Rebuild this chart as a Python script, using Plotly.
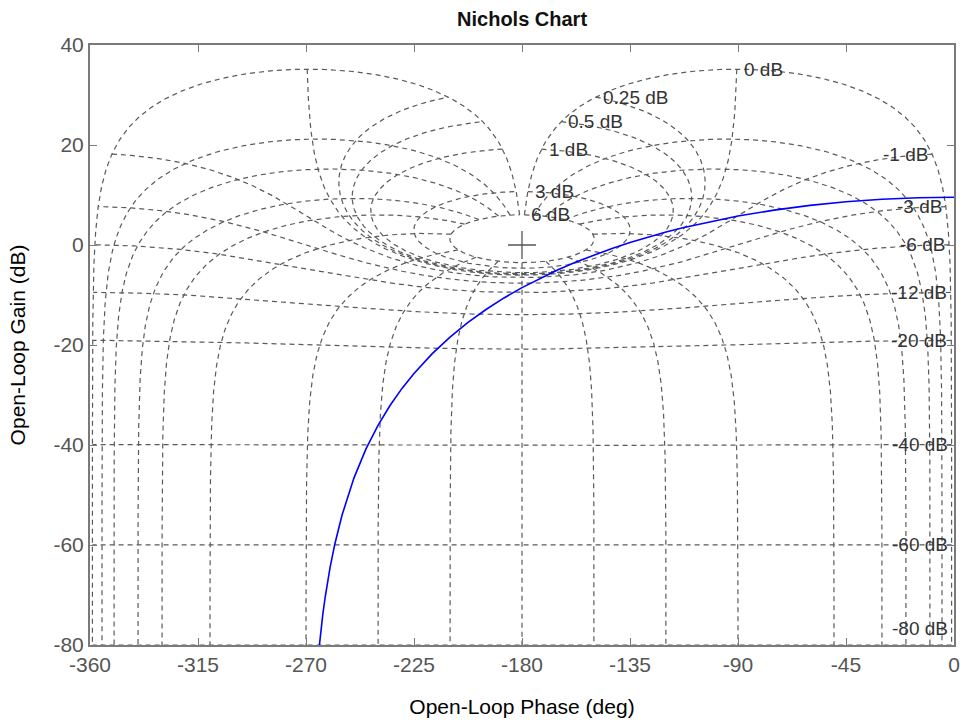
import numpy as np
import plotly.graph_objects as go

# ---------------- Data ----------------
# Open-loop frequency response (phase in deg, gain in dB)
OL_PHASE_DEG = [0, -15, -30, -45, -60, -75, -90, -105, -112.5, -120, -127.5, -135,
                -142.5, -150, -157.5, -165, -172.5, -180, -187.5, -195, -202.5,
                -210, -217.5, -225, -230, -235, -240, -245, -250, -255, -258,
                -260, -262, -263, -265]
OL_GAIN_DB = [9.54, 9.44, 9.14, 8.64, 7.92, 6.98, 5.79, 4.34, 3.51, 2.60, 1.60, 0.51,
              -0.68, -1.97, -3.39, -4.94, -6.65, -8.52, -10.59, -12.90, -15.49,
              -18.41, -21.77, -25.68, -28.68, -32.11, -36.08, -40.79, -46.57, -54.04,
              -59.84, -64.59, -70.40, -73.87, -82.64]

# Nichols grid levels
M_LEVELS_DB = [6, 3, 1, 0.5, 0.25, 0, -1, -3, -6, -12, -20, -40, -60, -80]
N_LEVELS_DEG = [1, 5, 10, 20, 30, 50, 90, 120, 150, 180]

X_TICKS = [-360, -315, -270, -225, -180, -135, -90, -45, 0]
Y_TICKS = [-80, -60, -40, -20, 0, 20, 40]
X_RANGE = [-360, 0]
Y_RANGE = [-80, 40]


def ol_from_cl(mag_db, phase_deg):
    """Map closed-loop magnitude/phase to open-loop gain/phase (Nichols grid)."""
    T = 10 ** (np.asarray(mag_db) / 20.0) * np.exp(1j * np.deg2rad(phase_deg))
    G = T / (1 - T)
    gain = 20 * np.log10(np.abs(G))
    ph = np.mod(np.rad2deg(np.angle(G)), 360) - 360
    return ph, gain


gx, gy = [], []
# constant closed-loop gain lines
alpha = np.linspace(-1, -359, 2000)
label_pts = []
for m in M_LEVELS_DB:
    ph, g = ol_from_cl(np.full_like(alpha, m), alpha)
    gx += list(ph) + [None]
    gy += list(g) + [None]
    label_pts.append((m, ph[0], g[0]))

# constant closed-loop phase lines
mdb = np.concatenate([np.linspace(6, 0.6, 80), np.linspace(0.6, -0.6, 600),
                      np.linspace(-0.6, -6, 120), np.linspace(-6, -120, 300)])
for p in N_LEVELS_DEG:
    for a in sorted(set([-p, p - 360])):
        ph, g = ol_from_cl(mdb, np.full_like(mdb, a))
        gx += list(ph) + [None]
        gy += list(g) + [None]

fig = go.Figure()
fig.add_trace(go.Scatter(x=gx, y=gy, mode="lines", hoverinfo="skip",
                         line=dict(color="#5a5a5a", width=1.2, dash="5px,4px"),
                         showlegend=False))
fig.add_trace(go.Scatter(x=OL_PHASE_DEG, y=OL_GAIN_DB, mode="lines",
                         line=dict(color="#0000ff", width=1.6), showlegend=False))
fig.add_trace(go.Scatter(x=[-180], y=[0], mode="markers", showlegend=False,
                         marker=dict(symbol="cross-thin", size=20,
                                     line=dict(color="#555555", width=1.3))))

for m, ph, g in label_pts:
    ann = dict(x=ph, y=g, text=f"{m:g} dB", showarrow=False,
               font=dict(family="Liberation Sans, Arial, sans-serif", size=19, color="#333333"))
    if m >= 0:
        ann.update(xanchor="left", xshift=5)
    else:
        ann.update(xanchor="right", xshift=-2)
    if g < Y_RANGE[0] + 1:
        ann.update(y=Y_RANGE[0], yshift=17)
    fig.add_annotation(**ann)

font = "Liberation Sans, Arial, sans-serif"
fig.update_layout(
    width=965, height=720,
    margin=dict(l=90, r=5, t=45, b=75),
    paper_bgcolor="white", plot_bgcolor="white",
    font=dict(family=font, size=21, color="#000000"),
    title=dict(text="<b>Nichols Chart</b>", x=0.541, xanchor="center",
               y=1 - 19 / 720, yanchor="middle", yref="container",
               font=dict(size=20, color="#111111")),
)
fig.update_xaxes(range=X_RANGE, tickvals=X_TICKS, ticktext=[str(v) for v in X_TICKS],
                 ticks="inside", ticklen=7, tickcolor="#7a7a7a", tickwidth=1.2,
                 showline=True, linecolor="#7a7a7a", linewidth=2, mirror="ticks",
                 showgrid=False, zeroline=False,
                 tickfont=dict(size=21, color="#555555"),
                 title=dict(text="Open-Loop Phase (deg)", standoff=24,
                            font=dict(size=21, color="#000000")))
fig.update_yaxes(range=Y_RANGE, tickvals=Y_TICKS, ticktext=[str(v) for v in Y_TICKS],
                 ticks="inside", ticklen=7, tickcolor="#7a7a7a", tickwidth=1.2,
                 showline=True, linecolor="#7a7a7a", linewidth=2, mirror="ticks",
                 showgrid=False, zeroline=False,
                 tickfont=dict(size=21, color="#555555"),
                 title=dict(text="Open-Loop Gain (dB)", standoff=22,
                            font=dict(size=21, color="#000000")))

fig.write_html("out.html")
